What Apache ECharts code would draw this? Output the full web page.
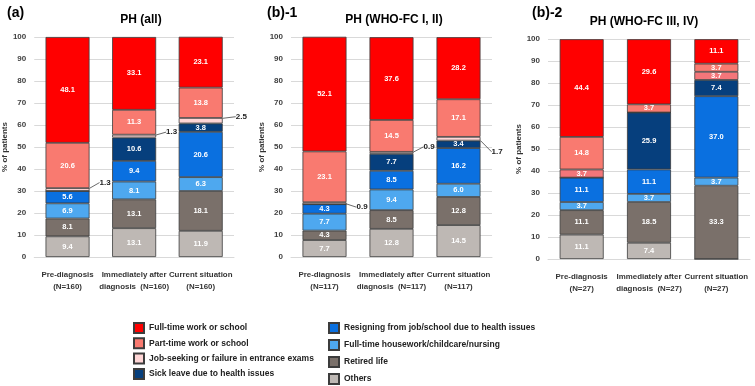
<!DOCTYPE html>
<html>
<head>
<meta charset="utf-8">
<script src="https://cdn.jsdelivr.net/npm/echarts@6/dist/echarts.min.js"></script>
<style>
  html, body { margin: 0; padding: 0; background: #fff; }
  #chart { width: 755px; height: 386px; }
</style>
</head>
<body>
<div id="chart"></div>
<script>
// status categories, top of the stack first (legend order)
const statusNames = [
  'Full-time work or school',
  'Part-time work or school',
  'Job-seeking or failure in entrance exams',
  'Sick leave due to health issues',
  'Resigning from job/school due to health issues',
  'Full-time housework/childcare/nursing',
  'Retired life',
  'Others'
];
const statusColors = ['#FF0000', '#F97A70', '#FFD6D6', '#063F7D', '#0A70E0', '#4EA8EF', '#7A706A', '#BEB8B4'];

// x categories for each panel
const catsA = ['Pre-diagnosis\n(N=160)', 'Immediately after\ndiagnosis  (N=160)', 'Current situation\n(N=160)'];
const catsB1 = ['Pre-diagnosis\n(N=117)', 'Immediately after\ndiagnosis  (N=117)', 'Current situation\n(N=117)'];
const catsB2 = ['Pre-diagnosis\n(N=27)', 'Immediately after\ndiagnosis  (N=27)', 'Current situation\n(N=27)'];

// (a) PH (all) -- pre / immediately after / current
const fullTimeA = [48.1, 33.1, 23.1];
const partTimeA = [20.6, 11.3, 13.8];
const jobSeekA = [1.3, 1.3, 2.5];
const sickLeaveA = [0, 10.6, 3.8];
const resignA = [5.6, 9.4, 20.6];
const houseworkA = [6.9, 8.1, 6.3];
const retiredA = [8.1, 13.1, 18.1];
const othersA = [9.4, 13.1, 11.9];

// (b)-1 PH (WHO-FC I, II)
const fullTimeB1 = [52.1, 37.6, 28.2];
const partTimeB1 = [23.1, 14.5, 17.1];
const jobSeekB1 = [0.9, 0.9, 1.7];
const sickLeaveB1 = [0, 7.7, 3.4];
const resignB1 = [4.3, 8.5, 16.2];
const houseworkB1 = [7.7, 9.4, 6.0];
const retiredB1 = [4.3, 8.5, 12.8];
const othersB1 = [7.7, 12.8, 14.5];

// (b)-2 PH (WHO-FC III, IV)
const fullTimeB2 = [44.4, 29.6, 11.1];
const partTimeB2 = [14.8, 3.7, 3.7];
const jobSeekB2 = [3.7, 0, 3.7];
const sickLeaveB2 = [0, 25.9, 7.4];
const resignB2 = [11.1, 11.1, 37.0];
const houseworkB2 = [3.7, 3.7, 3.7];
const retiredB2 = [11.1, 18.5, 33.3];
const othersB2 = [11.1, 7.4, 0];

const yTicks = [0, 10, 20, 30, 40, 50, 60, 70, 80, 90, 100];

const FONT = "'Liberation Sans', Arial, sans-serif";

const panels = [
  {
    cats: catsA,
    values: [fullTimeA, partTimeA, jobSeekA, sickLeaveA, resignA, houseworkA, retiredA, othersA],
    grid: { left: 33, width: 201, top: 37, height: 220 },
    leader: [[6, -7], [6, -4], [9, -4]]
  },
  {
    cats: catsB1,
    values: [fullTimeB1, partTimeB1, jobSeekB1, sickLeaveB1, resignB1, houseworkB1, retiredB1, othersB1],
    grid: { left: 291, width: 201, top: 37, height: 220 },
    leader: [[6, 4], [6, -6], [7, 13]]
  },
  {
    cats: catsB2,
    values: [fullTimeB2, partTimeB2, jobSeekB2, sickLeaveB2, resignB2, houseworkB2, retiredB2, othersB2],
    grid: { left: 548, width: 202, top: 39, height: 220 },
    leader: null,
    jobColor: '#F4767A'
  }
];

const grids = [], xAxes = [], yAxes = [], series = [];

panels.forEach((p, pi) => {
  grids.push(p.grid);
  xAxes.push({
    type: 'category',
    gridIndex: pi,
    data: p.cats,
    axisTick: { show: false },
    axisLine: { lineStyle: { color: '#D9D9D9' } },
    axisLabel: {
      interval: 0, margin: 12, color: '#333', fontSize: 7.9, fontWeight: 'bold',
      fontFamily: FONT, lineHeight: 12, overflow: 'none', hideOverlap: false
    }
  });
  yAxes.push({
    type: 'value',
    gridIndex: pi,
    min: yTicks[0],
    max: yTicks[yTicks.length - 1],
    interval: yTicks[1] - yTicks[0],
    name: '% of patients',
    nameLocation: 'middle',
    nameGap: 20,
    nameTextStyle: { fontSize: 8, fontWeight: 'bold', color: '#333', fontFamily: FONT },
    axisLine: { show: false },
    axisTick: { show: false },
    axisLabel: { margin: 8, fontSize: 8, fontWeight: 'bold', color: '#404040', fontFamily: FONT },
    splitLine: { lineStyle: { color: '#D9D9D9', width: 1 } }
  });

  // stack from the bottom: Others first, Full-time last
  for (let si = statusNames.length - 1; si >= 0; si--) {
    const isJob = si === 2;
    const s = {
      name: statusNames[si],
      type: 'bar',
      stack: 'p' + pi,
      xAxisIndex: pi,
      yAxisIndex: pi,
      barWidth: 44,
      data: p.values[si],
      itemStyle: { color: statusColors[si], borderColor: '#3C3C3C', borderWidth: 0.8 },
      label: {
        show: true,
        position: 'inside',
        color: '#fff',
        fontSize: 7.5,
        fontWeight: 'bold',
        fontFamily: FONT,
        formatter: (d) => (d.value ? d.value.toFixed(1) : '')
      }
    };
    if (isJob && p.leader) {
      const off = p.leader;
      s.label = Object.assign({}, s.label, { position: 'right', distance: 4, color: '#222', fontSize: 8 });
      s.labelLayout = (d) => ({ dx: off[d.dataIndex][0], dy: off[d.dataIndex][1] });
      s.labelLine = { show: true, lineStyle: { color: '#444', width: 0.8 } };
    }
    if (isJob && p.jobColor) {
      s.data = p.values[si].map((v) => ({ value: v, itemStyle: { color: p.jobColor } }));
    }
    series.push(s);
  }
});

const titleFont = { fontFamily: FONT, fontWeight: 'bold', color: '#000' };
const legendText = { fontSize: 8.5, lineHeight: 10, fontWeight: 'bold', color: '#222', fontFamily: FONT };

const option = {
  animation: false,
  backgroundColor: '#fff',
  title: [
    { text: '(a)', left: 2, top: 1, textStyle: Object.assign({ fontSize: 14 }, titleFont) },
    { text: 'PH (all)', left: 136, top: 9, textAlign: 'center', textStyle: Object.assign({ fontSize: 12 }, titleFont) },
    { text: '(b)-1', left: 262, top: 1, textStyle: Object.assign({ fontSize: 14 }, titleFont) },
    { text: 'PH (WHO-FC I, II)', left: 389, top: 9, textAlign: 'center', textStyle: Object.assign({ fontSize: 12 }, titleFont) },
    { text: '(b)-2', left: 527, top: 1, textStyle: Object.assign({ fontSize: 14 }, titleFont) },
    { text: 'PH (WHO-FC III, IV)', left: 639, top: 11, textAlign: 'center', textStyle: Object.assign({ fontSize: 12 }, titleFont) }
  ],
  grid: grids,
  xAxis: xAxes,
  yAxis: yAxes,
  legend: [
    {
      data: statusNames.slice(0, 4),
      orient: 'vertical',
      left: 133, top: 322, height: 70, padding: 0,
      itemWidth: 10, itemHeight: 10, itemGap: 3.3,
      icon: 'rect',
      textStyle: legendText
    },
    {
      data: statusNames.slice(4),
      orient: 'vertical',
      left: 328, top: 322, height: 70, padding: 0,
      itemWidth: 10, itemHeight: 10, itemGap: 5,
      icon: 'rect',
      textStyle: legendText
    }
  ],
  series: series
};

const chart = echarts.init(document.getElementById('chart'));
chart.setOption(option);
</script>
</body>
</html>
